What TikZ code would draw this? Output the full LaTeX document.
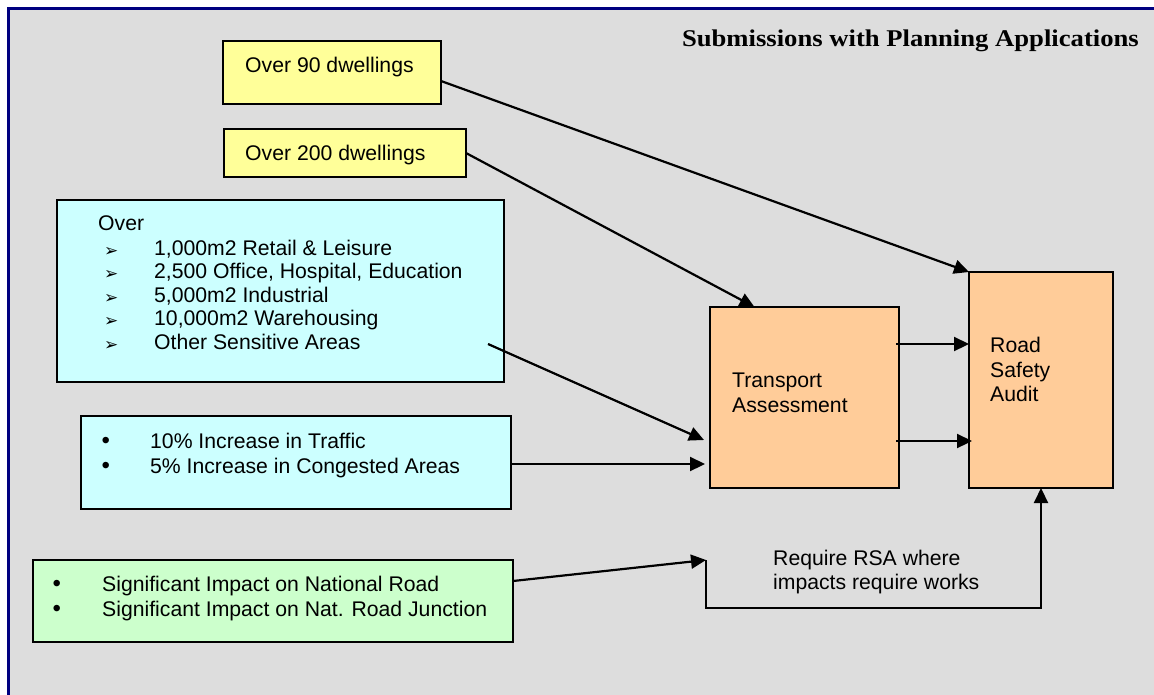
\documentclass[tikz,border=0pt]{standalone}
\usepackage{fontspec}
\setmainfont{Liberation Sans}
\newfontfamily\titlefont{Liberation Serif}
\newfontfamily\symfont{DejaVu Sans}
\usetikzlibrary{arrows.meta,calc}
\definecolor{bggrey}{HTML}{DDDDDD}
\definecolor{frameblue}{HTML}{000080}
\definecolor{yelfill}{HTML}{FFFF99}
\definecolor{cyanfill}{HTML}{CCFFFF}
\definecolor{greenfill}{HTML}{CCFFCC}
\definecolor{orangefill}{HTML}{FFCC99}
\newcommand{\arrbul}{\makebox[50pt][l]{\raisebox{-1pt}{\symfont\fontsize{17}{17}\selectfont ➢}}}
\newcommand{\dotbul}[1]{\makebox[#1][l]{\fontsize{24}{24}\selectfont •}}
\begin{document}
\begin{tikzpicture}[x=1pt,y=-1pt,
  box/.style={draw=black, line width=2.2pt, anchor=north west, inner sep=0pt, outer sep=0pt},
  txt/.style={anchor=base west, inner sep=0pt, font=\fontsize{21.2}{23.5}\selectfont},
  conn/.style={line width=2.2pt, -{Triangle[length=15pt,width=14pt]}}]
\useasboundingbox (0,0) rectangle (1154,694);
\fill[white] (0,0) rectangle (1154,694);
\draw[fill=bggrey, draw=frameblue, line width=3pt] (8.5,8.5) rectangle (1175,715);

\node[anchor=base east, inner sep=0pt, font=\titlefont\bfseries\fontsize{24}{28}\selectfont] (title) at (1139,46) {\scalebox{1.11}[1]{Submissions with Planning Applications}};

% boxes
\node[box, fill=yelfill, minimum width=218pt, minimum height=63pt] (y1) at (223,41) {};
\node[box, fill=yelfill, minimum width=242pt, minimum height=48pt] (y2) at (224,129) {};
\node[box, fill=cyanfill, minimum width=447pt, minimum height=182pt] (bc) at (57,200) {};
\node[box, fill=cyanfill, minimum width=430pt, minimum height=93pt] (sc) at (81,416) {};
\node[box, fill=greenfill, minimum width=480pt, minimum height=82pt] (gr) at (33,560) {};
\node[box, fill=orangefill, minimum width=189pt, minimum height=181pt] (ta) at (710,307) {};
\node[box, fill=orangefill, minimum width=144pt, minimum height=216pt] (rsa) at (969,272) {};

% texts
\node[txt] (y1t) at (245,72) {Over 90 dwellings};
\node[txt] (y2t) at (245,160) {Over 200 dwellings};
\node[txt] (bc0) at (98,230) {Over};
\node[txt] (bc1) at (104,255) {\arrbul 1,000m2 Retail \& Leisure};
\node[txt] (bc2) at (104,278.5) {\arrbul 2,500 Office, Hospital, Education};
\node[txt] (bc3) at (104,302) {\arrbul 5,000m2 Industrial};
\node[txt] (bc4) at (104,325.5) {\arrbul 10,000m2 Warehousing};
\node[txt] (bc5) at (104,349) {\arrbul Other Sensitive Areas};
\node[txt] (sc1) at (101.5,448) {\dotbul{48.5pt}10\% Increase in Traffic};
\node[txt] (sc2) at (101.5,473) {\dotbul{48.5pt}5\% Increase in Congested Areas};
\node[txt] (gr1) at (52.5,591) {\dotbul{49.5pt}Significant Impact on National Road};
\node[txt] (gr2) at (52.5,616) {\dotbul{49.5pt}Significant Impact on Nat. Road Junction};
\node[txt] (ta1) at (732,387) {Transport};
\node[txt] (ta2) at (732,412) {Assessment};
\node[txt] (rsa1) at (990,352) {Road};
\node[txt] (rsa2) at (990,377) {Safety};
\node[txt] (rsa3) at (990,401) {Audit};
\node[txt] (lab1) at (773,565) {Require RSA where};
\node[txt] (lab2) at (773,589) {impacts require works};

% connectors
\draw[conn] ([yshift=-8.5pt]y1.east) -- (rsa.north west);
\draw[conn] (y2.east) -- ([xshift=-50pt]ta.north);
\draw[conn] ([xshift=-16pt,yshift=-53pt]bc.east) -- ([xshift=-6pt,yshift=-42.5pt]ta.west);
\draw[conn] ([yshift=-1.5pt]sc.east) -- ([xshift=-5pt,yshift=-66.5pt]ta.west);
\coordinate (gtip) at ([xshift=-4pt,yshift=-72pt]ta.south west);
\draw[conn] ([yshift=20pt]gr.east) -- (gtip);
\draw[conn] (gtip) -- ++(0,48) -| (rsa.south);
\coordinate (ta3) at ([xshift=-3pt,yshift=53.5pt]ta.east);
\coordinate (ta4) at ([xshift=-3pt,yshift=-43.5pt]ta.east);
\draw[conn] (ta3) -- (ta3 -| rsa.west);
\draw[conn] (ta4) -- ([xshift=3pt]ta4 -| rsa.west);
\end{tikzpicture}
\end{document}
